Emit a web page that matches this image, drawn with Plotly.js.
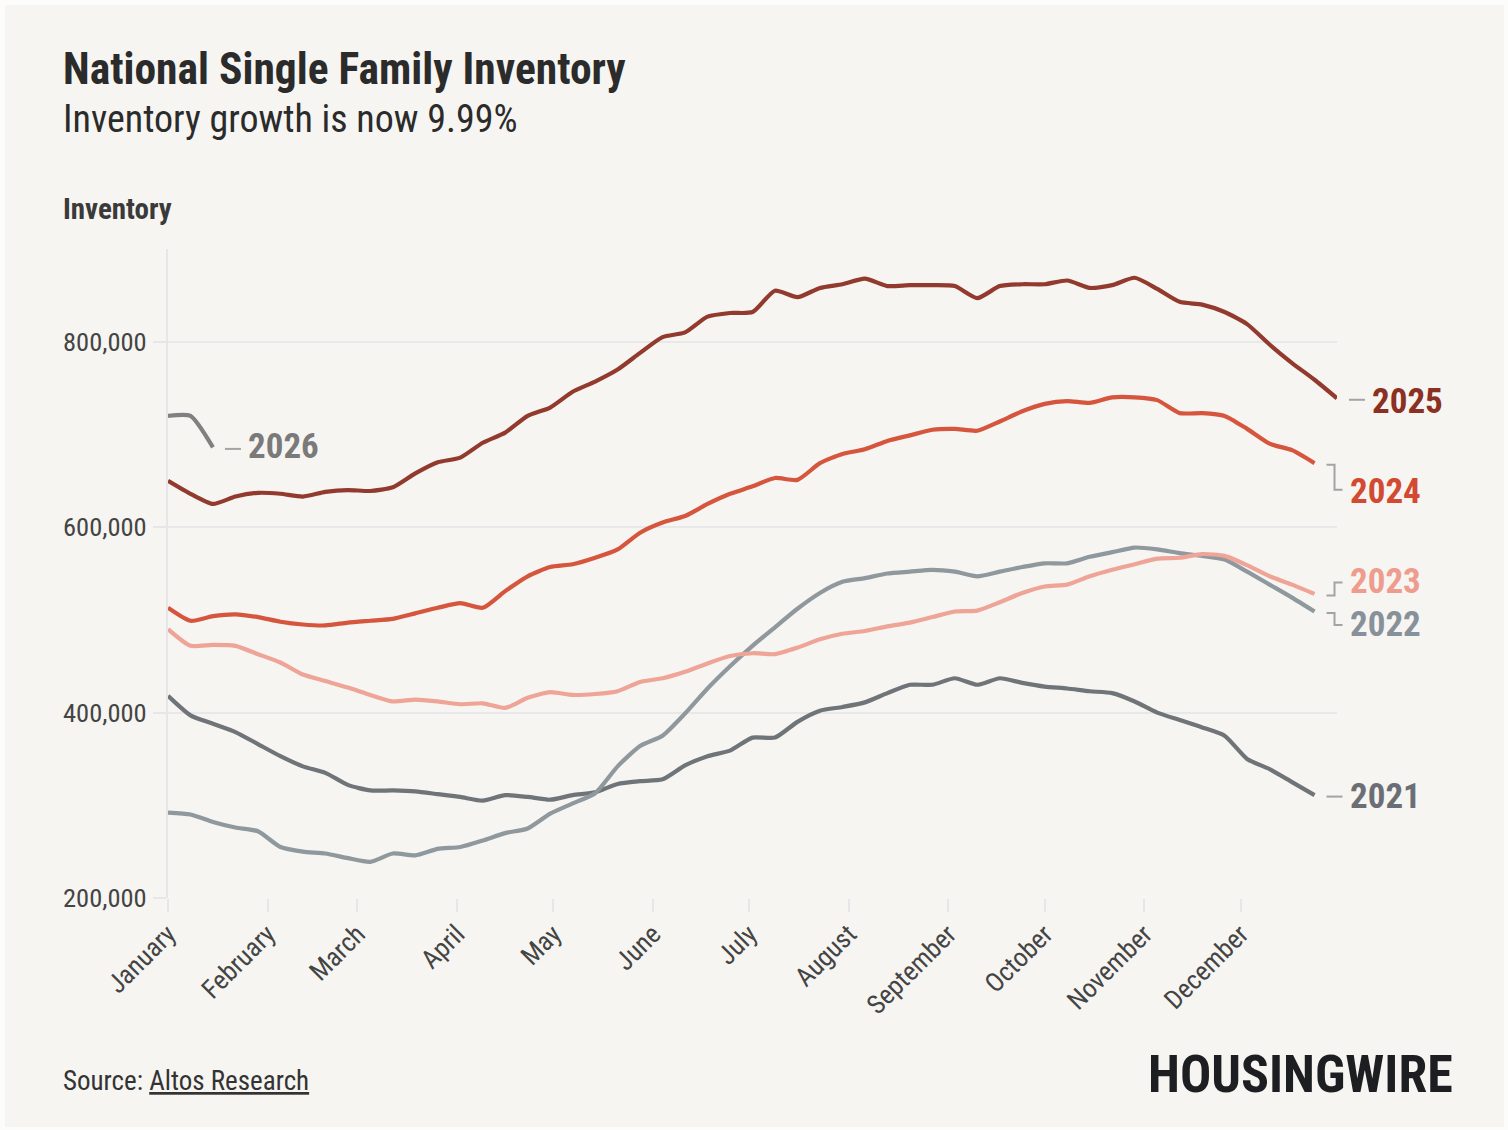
<!DOCTYPE html>
<html>
<head>
<meta charset="utf-8">
<script src="https://cdn.plot.ly/plotly-3.0.1.min.js"></script>
<style>
  html, body { margin: 0; padding: 0; background: #fcfcfb; }
  #chart { position: absolute; left: 5px; top: 5px; width: 1499px; height: 1122px; }
</style>
</head>
<body>
<div id="chart"></div>
<script>
// ---------- data (weekly national single-family inventory) ----------
const months = ['January','February','March','April','May','June','July','August','September','October','November','December'];
const monthStartDay = [0,31,59,90,120,151,181,212,243,273,304,334];

const years = ['2021','2022','2023','2024','2025','2026'];

const inv2021 = [418000,397000,388000,379000,366000,353000,342000,335000,322000,316000,316000,315000,312000,309000,305000,311000,309000,306000,311000,314000,323000,326000,328000,343000,353000,359000,373000,373000,390000,402000,406000,411000,421000,430000,430000,437000,430000,437000,432000,428000,426000,423000,421000,412000,400000,392000,384000,375000,350000,339000,325000,311000];
const inv2022 = [292000,290000,282000,276000,272000,255000,250000,248000,243000,239000,248000,246000,253000,255000,262000,270000,275000,291000,302000,313000,342000,364000,375000,399000,426000,450000,472000,492000,512000,529000,541000,545000,550000,552000,554000,552000,547000,552000,557000,561000,561000,568000,573000,578000,576000,572000,569000,565000,552000,538000,524000,509000];
const inv2023 = [490000,472000,473000,472000,463000,454000,441000,434000,427000,419000,412000,414000,412000,409000,410000,405000,416000,422000,419000,420000,423000,433000,437000,444000,453000,461000,464000,463000,470000,479000,485000,488000,493000,497000,503000,509000,510000,519000,529000,536000,538000,547000,554000,560000,566000,567000,571000,569000,559000,547000,538000,528000];
const inv2024 = [513000,499000,504000,506000,503000,498000,495000,494000,497000,499000,501000,507000,513000,518000,513000,531000,547000,557000,560000,567000,576000,594000,605000,612000,625000,636000,644000,653000,651000,669000,679000,684000,693000,699000,705000,706000,704000,714000,725000,733000,736000,734000,740000,740000,737000,723000,723000,720000,706000,690000,683000,669000];
const inv2025 = [650000,636000,625000,633000,637000,636000,633000,638000,640000,639000,643000,658000,670000,675000,691000,702000,720000,729000,746000,757000,770000,788000,805000,810000,827000,831000,832000,855000,848000,858000,862000,868000,860000,861000,861000,860000,847000,860000,862000,862000,866000,858000,861000,869000,857000,843000,840000,832000,819000,797000,777000,759000,739000];
const inv2026 = [720000,720000,686000];

const seriesValues = [inv2021, inv2022, inv2023, inv2024, inv2025, inv2026];
const lineColors  = ['#6f7479','#8e989d','#eea497','#d5553d','#923a2d','#808080'];
const labelColors = ['#6b6f75','#87919a','#ed9c8e','#d14a31','#8b3022','#7a7a7a'];
// vertical nudge (px) of each end label relative to its line end, to avoid overlaps
const labelNudge  = [0, 12, -13, 25, 0, 0];
// fine vertical adjustment of label text (px)
const textNudge   = [0, -1, -1, 2, 2, -2];

const Y_MIN = 200000, Y_MAX = 900000, X_MAX = 52;
// plot area in page pixels
const PL = 168, PR = 1337, PT = 249, PB = 898;
const pw = PR - PL, ph = PB - PT;
const xPaperFromPx = px => (px - PL) / pw;
const yPaperFromPx = py => (PB - py) / ph;
const pxFromWeek = w => PL + w / X_MAX * pw;
const pyFromVal  = v => PB - (v - Y_MIN) / (Y_MAX - Y_MIN) * ph;

const FONT = "'Roboto Condensed', 'Liberation Sans Narrow', 'DejaVu Sans Condensed', Roboto, sans-serif";

const traces = seriesValues.map((vals, k) => ({
  type: 'scatter', mode: 'lines',
  x: vals.map((_, i) => i),
  y: vals,
  name: years[k],
  line: { color: lineColors[k], width: 4.2, shape: 'spline', smoothing: 0.6 },
  hoverinfo: 'skip'
}));

const shapes = [];
const annotations = [];

seriesValues.forEach((vals, k) => {
  const lastI = vals.length - 1;
  const ex = pxFromWeek(lastI);
  const ey = pyFromVal(vals[lastI]) + 1.5;
  const ly = ey + labelNudge[k];
  const x1 = ex + 12, xm = ex + 20, x2 = ex + 28;
  let path;
  if (labelNudge[k] === 0) {
    path = `M ${xPaperFromPx(x1)},${yPaperFromPx(ey)} L ${xPaperFromPx(x2)},${yPaperFromPx(ey)}`;
  } else {
    path = `M ${xPaperFromPx(x1)},${yPaperFromPx(ey)} L ${xPaperFromPx(xm)},${yPaperFromPx(ey)} L ${xPaperFromPx(xm)},${yPaperFromPx(ly)} L ${xPaperFromPx(x2)},${yPaperFromPx(ly)}`;
  }
  shapes.push({ type: 'path', xref: 'paper', yref: 'paper', path: path,
                line: { color: '#a3a3a3', width: 2 } });
  annotations.push({
    xref: 'paper', yref: 'paper', x: xPaperFromPx(ex + 33), y: yPaperFromPx(ly + textNudge[k]),
    xanchor: 'left', yanchor: 'middle', showarrow: false,
    text: '<b>' + years[k] + '</b>',
    font: { family: FONT, size: 35, color: labelColors[k] }
  });
});

// header / footer texts
annotations.push(
  { xref: 'paper', yref: 'paper', x: xPaperFromPx(61), y: yPaperFromPx(70), xanchor: 'left', yanchor: 'middle', showarrow: false,
    text: '<b>National Single Family Inventory</b>', font: { family: FONT, size: 43.5, color: '#2b2b2b' } },
  { xref: 'paper', yref: 'paper', x: xPaperFromPx(61), y: yPaperFromPx(119), xanchor: 'left', yanchor: 'middle', showarrow: false,
    text: 'Inventory growth is now 9.99%', font: { family: FONT, size: 38, color: '#2b2b2b' } },
  { xref: 'paper', yref: 'paper', x: xPaperFromPx(61), y: yPaperFromPx(209), xanchor: 'left', yanchor: 'middle', showarrow: false,
    text: '<b>Inventory</b>', font: { family: FONT, size: 29, color: '#3a3a3a' } },
  { xref: 'paper', yref: 'paper', x: xPaperFromPx(61), y: yPaperFromPx(1081), xanchor: 'left', yanchor: 'middle', showarrow: false,
    text: 'Source: <span style="text-decoration:underline">Altos Research</span>', font: { family: FONT, size: 27, color: '#333333' } },
  { xref: 'paper', yref: 'paper', x: xPaperFromPx(1455), y: yPaperFromPx(1074), xanchor: 'right', yanchor: 'middle', showarrow: false,
    text: '<b>HOUSINGWIRE</b>', font: { family: FONT, size: 52, weight: 900, color: '#1d1e21' } }
);

const layout = {
  width: 1499, height: 1122,
  margin: { l: PL - 5, r: 1504 - PR, t: PT - 5, b: 1127 - PB },
  paper_bgcolor: '#f6f5f1',
  plot_bgcolor: '#f6f5f1',
  showlegend: false,
  font: { family: FONT, color: '#444444' },
  xaxis: {
    range: [0, X_MAX],
    tickmode: 'array',
    tickvals: monthStartDay.map(d => d / 7),
    ticktext: months,
    tickangle: -45,
    ticks: 'outside', ticklen: 13, tickwidth: 2, tickcolor: '#e6e6e8',
    showgrid: false, zeroline: false, showline: false,
    ticklabelstandoff: -4,
    tickfont: { family: FONT, size: 26.5, color: '#444444' }
  },
  yaxis: {
    range: [Y_MIN, Y_MAX],
    tickmode: 'array',
    tickvals: [200000, 400000, 600000, 800000],
    tickformat: ',d',
    ticks: 'outside', ticklen: 13, tickwidth: 2, tickcolor: '#e6e6e8',
    showgrid: true, gridcolor: '#e8e8ea', gridwidth: 2,
    zeroline: false,
    showline: true, linecolor: '#e6e6e8', linewidth: 2,
    ticklabelstandoff: 1,
    tickfont: { family: FONT, size: 26.5, color: '#444444' }
  },
  shapes: shapes,
  annotations: annotations
};

Plotly.newPlot('chart', traces, layout, { displayModeBar: false, staticPlot: true });
</script>
</body>
</html>
